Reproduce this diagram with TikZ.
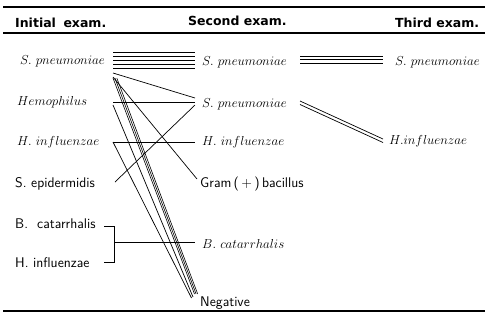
\RequirePackage{fix-cm}
\documentclass[tikz,border=0pt]{standalone}
\usepackage{fontspec}
\newfontfamily\hdfont{DejaVu Sans}
\begin{document}
\begin{tikzpicture}[x=1pt,y=-1pt,
  it/.style={anchor=base west, inner sep=0pt, font=\fontsize{13}{15}\selectfont},
  sf/.style={anchor=base west, inner sep=0pt, font=\fontsize{14}{16}\selectfont\sffamily},
  hd/.style={anchor=base west, inner sep=0pt, font=\fontsize{12.5}{14}\selectfont\hdfont\bfseries},
  ln/.style={line width=0.7pt},
  rule/.style={line width=1.3pt}]
\useasboundingbox (0,0) rectangle (485,322);
% rules
\draw[rule] (3,7) -- (485,7);
\draw[rule] (3,33) -- (485,33);
\draw[rule] (3,311) -- (485,311);
% headers
\node[hd] (h1) at (15,27) {Initial\hspace{0.6em}exam.};
\node[hd] (h2) at (188,25) {Second exam.};
\node[hd] (h3) at (395,27) {Third exam.};
% left column
\node[it] (l1) at (20,64) {$S.\ pneumoniae$};
\node[it] (l2) at (17,105) {$Hemophilus$};
\node[it] (l3) at (17,145) {$H.\ influenzae$};
\node[sf] (l4) at (15,187) {S. epidermidis};
\node[sf] (l5) at (15,228) {B.\ \ catarrhalis};
\node[sf] (l6) at (15,267) {H. influenzae};
% middle column
\node[it] (m1) at (202,65) {$S.\ pneumoniae$};
\node[it] (m2) at (202,107) {$S.\ pneumoniae$};
\node[it] (m3) at (202,145) {$H.\ influenzae$};
\node[sf] (m4) at (200,187) {Gram\,(\,+\,)\,bacillus};
\node[it] (m5) at (202,248) {$B.\ catarrhalis$};
\node[sf] (m6) at (200,306) {Negative};
% right column
\node[it] (r1) at (395,65) {$S.\ pneumoniae$};
\node[it] (r2) at (389,144) {$H.influenzae$};
% left S. pneumoniae -> middle S. pneumoniae (bundle)
\foreach \y [count=\i] in {52.5,56.5,60.5,64.5,68.5} {
  \coordinate (pa\i) at (113,\y);
  \coordinate (pb\i) at (195,\y);
  \draw[ln] (pa\i) -- (pb\i);
}
% middle S. pneumoniae -> right S. pneumoniae
\foreach \y [count=\i] in {56,59.5,63} {
  \coordinate (qa\i) at (300,\y);
  \coordinate (qb\i) at (383,\y);
  \draw[ln] (qa\i) -- (qb\i);
}
% middle S. pneumoniae (2) -> right H. influenzae (double)
\coordinate (da1) at (300,101);   \coordinate (db1) at (383,139);
\coordinate (da2) at (300,104.5); \coordinate (db2) at (383,142.5);
\draw[ln] (da1) -- (db1);
\draw[ln] (da2) -- (db2);
% left S. pneumoniae -> others
\coordinate (sp1) at (113,73);  \coordinate (msp2a) at (195,98);
\draw[ln] (sp1) -- (msp2a);
\coordinate (sp2) at (113,77);  \coordinate (gram) at (197,179);
\draw[ln] (sp2) -- (gram);
\foreach \k in {0,1,2} {
  \coordinate (bs\k) at ({113+1.9*\k},78);
  \coordinate (be\k) at ({194.5+1.6*\k},294);
  \draw[line width=0.6pt] (bs\k) -- (be\k);
}
% Hemophilus
\coordinate (hem1) at (113,102); \coordinate (msp2b) at (195,102);
\draw[line width=1pt] (hem1) -- (msp2b);
\coordinate (hem2) at (113,105); \coordinate (neg1) at (193,297);
\draw[ln] (hem2) -- (neg1);
% S. epidermidis -> middle S. pneumoniae (2)
\coordinate (epi) at (115,182); \coordinate (msp2c) at (195,105);
\draw[ln] (epi) -- (msp2c);
% H. influenzae
\coordinate (hi1) at (113,142); \coordinate (mhi) at (195,142);
\draw[line width=0.9pt] (hi1) -- (mhi);
\coordinate (neg2) at (191.5,298);
\draw[ln] (hi1) -- (neg2);
% bracket B. catarrhalis / H. influenzae -> B. catarrhalis
\coordinate (bc1) at (104,226); \coordinate (bc2) at (114,226);
\coordinate (bc3) at (114,262); \coordinate (bc4) at (104,262);
\coordinate (bcm) at (114,242); \coordinate (mbc) at (195,242);
\draw[ln] (bc1) -- (bc2) -- (bc3) -- (bc4);
\draw[ln] (bcm) -- (mbc);
\end{tikzpicture}
\end{document}
